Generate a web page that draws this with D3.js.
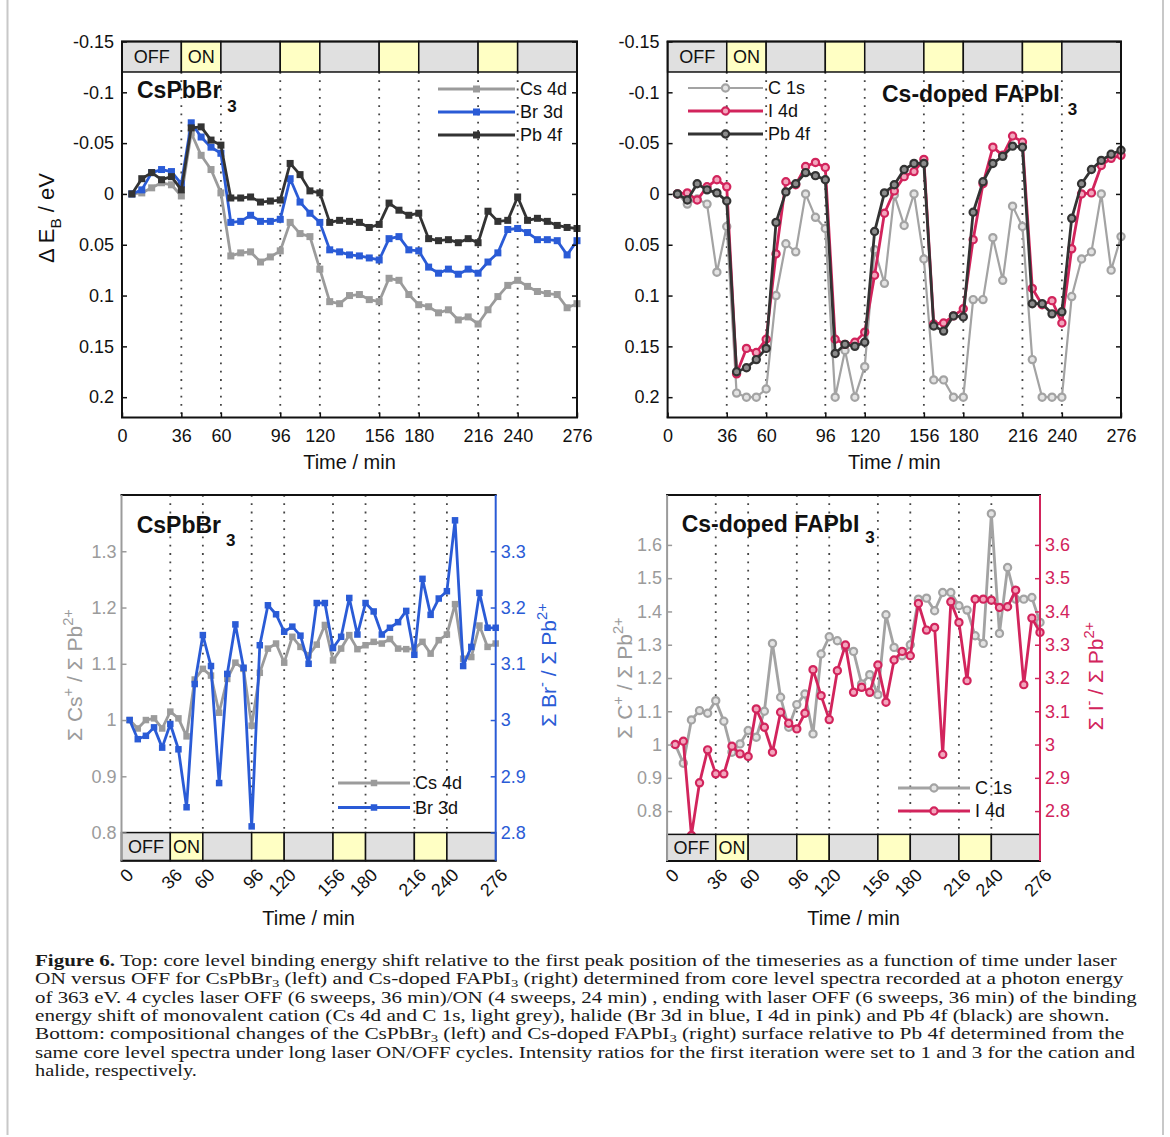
<!DOCTYPE html>
<html>
<head>
<meta charset="utf-8">
<script src="https://cdn.jsdelivr.net/npm/d3@7"></script>
<style>
  body { margin: 0; background: #fff; }
  svg { display: block; font-family: "Liberation Sans", Arial, Helvetica, sans-serif; }
</style>
</head>
<body>
<svg id="fig" width="1170" height="1137"></svg>
<script>
// one sweep every 6 min
const times = [6,12,18,24,30,36,42,48,54,60,66,72,78,84,90,96,102,108,114,120,
  126,132,138,144,150,156,162,168,174,180,186,192,198,204,210,216,222,228,234,240,
  246,252,258,264,270,276];

// top left, CsPbBr3: binding energy shift (eV)
const cs4dShift = [0,-0.001,-0.006,-0.011,-0.009,0.002, -0.060,-0.038,-0.024,-0.001,
  0.061,0.058,0.057,0.067,0.062,0.056, 0.028,0.039,0.042,0.074,
  0.106,0.108,0.100,0.099,0.104,0.106, 0.083,0.085,0.099,0.109,
  0.111,0.117,0.114,0.124,0.121,0.128, 0.114,0.101,0.090,0.085,
  0.091,0.096,0.098,0.099,0.112,0.108];
const br3dShift = [0,-0.004,-0.021,-0.024,-0.022,-0.010, -0.070,-0.056,-0.046,-0.040,
  0.028,0.027,0.021,0.027,0.027,0.025, -0.015,0.008,0.019,0.028,
  0.055,0.057,0.060,0.061,0.063,0.065, 0.044,0.042,0.055,0.056,
  0.072,0.078,0.074,0.079,0.074,0.078, 0.067,0.058,0.035,0.034,
  0.038,0.045,0.045,0.046,0.060,0.046];
const pb4fShiftBr = [0,-0.015,-0.021,-0.014,-0.017,-0.004, -0.065,-0.066,-0.053,-0.048,
  0.004,0.004,0.003,0.008,0.007,0.006, -0.030,-0.019,-0.003,-0.001,
  0.028,0.026,0.027,0.028,0.033,0.030, 0.009,0.016,0.021,0.019,
  0.044,0.046,0.045,0.048,0.044,0.048, 0.017,0.027,0.026,0.003,
  0.026,0.024,0.027,0.031,0.033,0.034];

// top right, Cs-doped FAPbI3: binding energy shift (eV)
const c1sShift = [0,0.010,0.005,0.010,0.077,0.032, 0.196,0.200,0.200,0.192,
  0.100,0.049,0.057,0.000,0.023,0.034, 0.200,0.154,0.200,0.170,
  0.055,0.088,0.001,0.031,0.000,0.064, 0.183,0.183,0.200,0.200,
  0.104,0.104,0.043,0.085,0.012,0.032, 0.163,0.200,0.200,0.200,
  0.101,0.064,0.057,0.000,0.075,0.042];
const i4dShift = [0,-0.001,0.006,-0.007,-0.014,-0.007, 0.177,0.152,0.156,0.143,
  0.059,-0.012,-0.009,-0.027,-0.031,-0.026, 0.143,0.148,0.146,0.136,
  0.080,0.019,-0.003,-0.017,-0.022,-0.034, 0.128,0.127,0.120,0.113,
  0.045,-0.010,-0.046,-0.038,-0.057,-0.051, 0.093,0.109,0.105,0.127,
  0.054,0.000,-0.001,-0.028,-0.035,-0.038];
const pb4fShiftI = [0,0.006,-0.010,-0.004,-0.001,0.007, 0.175,0.171,0.163,0.152,
  0.028,-0.002,-0.010,-0.021,-0.018,-0.014, 0.157,0.148,0.150,0.146,
  0.037,-0.001,-0.009,-0.024,-0.030,-0.030, 0.130,0.135,0.120,0.121,
  0.018,-0.012,-0.030,-0.037,-0.047,-0.046, 0.108,0.108,0.118,0.116,
  0.024,-0.010,-0.024,-0.033,-0.039,-0.043];

// bottom left, CsPbBr3: intensity ratios to Pb 4f
const csRatio = [1.000,0.985,1.000,1.003,0.985,1.015, 1.003,0.971,1.072,1.091,
  1.079,1.013,1.073,1.102,1.091,0.990, 1.084,1.127,1.136,1.102,
  1.148,1.130,1.115,1.134,1.169,1.106, 1.127,1.151,1.126,1.133,
  1.139,1.136,1.144,1.127,1.126,1.127, 1.139,1.118,1.142,1.152,
  1.206,1.109,1.112,1.168,1.130,1.136];
const brRatio = [3.000,2.966,2.972,2.987,2.951,2.993, 2.948,2.845,3.064,3.151,
  3.096,2.888,3.082,3.170,3.093,2.811, 3.133,3.204,3.188,3.157,
  3.166,3.150,3.100,3.208,3.208,3.128, 3.148,3.217,3.152,3.208,
  3.193,3.152,3.164,3.174,3.194,3.116, 3.251,3.187,3.216,3.229,
  3.355,3.096,3.130,3.226,3.164,3.164];

// bottom right, Cs-doped FAPbI3: intensity ratios to Pb 4f
const cRatio = [1.000,0.944,1.074,1.102,1.094,1.132, 1.070,0.977,1.002,1.042,
  1.022,1.100,1.304,1.142,1.052,1.120, 1.152,1.032,1.272,1.324,
  1.312,1.292,1.280,1.182,1.210,1.150, 1.390,1.292,1.267,1.300,
  1.437,1.440,1.402,1.457,1.457,1.417, 1.404,1.327,1.304,1.694,
  1.334,1.532,1.437,1.437,1.442,1.367];
const iRatio = [3.000,3.010,2.727,2.885,2.984,2.912, 2.912,2.995,2.972,2.964,
  3.107,3.052,2.977,3.097,3.064,3.047, 3.094,3.225,3.147,3.075,
  3.222,3.299,3.157,3.172,3.157,3.239, 3.127,3.254,3.280,3.267,
  3.424,3.344,3.352,2.970,3.429,3.367, 3.192,3.437,3.437,3.434,
  3.412,3.414,3.464,3.180,3.380,3.337];

const timeTicks = [0,36,60,96,120,156,180,216,240,276];
const laserEdges = [0,36,60,96,120,156,180,216,240,276];
const laserState = ["OFF","ON","OFF","ON","OFF","ON","OFF","ON","OFF"];
const shiftTicks = [-0.15,-0.1,-0.05,0,0.05,0.1,0.15,0.2];
const csTicks = [0.8,0.9,1,1.1,1.2,1.3];
const brTicks = [2.8,2.9,3,3.1,3.2,3.3];
const cTicks = [0.8,0.9,1,1.1,1.2,1.3,1.4,1.5,1.6];
const iTicks = [2.8,2.9,3,3.1,3.2,3.3,3.4,3.5,3.6];

const captionLines = [
  "**Figure 6.** Top: core level binding energy shift relative to the first peak position of the timeseries as a function of time under laser",
  "ON versus OFF for CsPbBr_3 (left) and Cs-doped FAPbI_3 (right) determined from core level spectra recorded at a photon energy",
  "of 363 eV. 4 cycles laser OFF (6 sweeps, 36 min)/ON (4 sweeps, 24 min) , ending with laser OFF (6 sweeps, 36 min) of the binding",
  "energy shift of monovalent cation (Cs 4d and C 1s, light grey), halide (Br 3d in blue, I 4d in pink) and Pb 4f (black) are shown.",
  "Bottom: compositional changes of the CsPbBr_3 (left) and Cs-doped FAPbI_3 (right) surface relative to Pb 4f determined from the",
  "same core level spectra under long laser ON/OFF cycles. Intensity ratios for the first iteration were set to 1 and 3 for the cation and",
  "halide, respectively."
];

const GREY = "#9b9b9b", BLUE = "#2a5bd6", DARK = "#333333", PINK = "#d2245c";
const BAR_OFF = "#e0e0e0", BAR_ON = "#ffffc4";

const svg = d3.select("#fig");

// figure frame (page border lines)
svg.append("line").attr("x1", 7.5).attr("x2", 7.5).attr("y1", 0).attr("y2", 1135)
  .attr("stroke", "#c8c8c8").attr("stroke-width", 2);
svg.append("line").attr("x1", 1163).attr("x2", 1163).attr("y1", 0).attr("y2", 1135)
  .attr("stroke", "#c8c8c8").attr("stroke-width", 2);

/* text with sub/superscripts: parts = [[str, "n"|"sub"|"sup"], ...] */
function rich(t, parts, size) {
  let shift = 0;
  parts.forEach(([s, k]) => {
    const target = k === "sup" ? -0.42 * size : k === "sub" ? 0.3 * size : 0;
    t.append("tspan").text(s)
      .attr("dy", target - shift)
      .attr("font-size", k === "n" ? size : size * 0.7);
    shift = target;
  });
}

function marker(g, type, cx, cy, s) {
  if (type === "square") {
    g.append("rect").attr("x", cx - s.size / 2).attr("y", cy - s.size / 2)
      .attr("width", s.size).attr("height", s.size).attr("fill", s.color);
  } else {
    g.append("circle").attr("cx", cx).attr("cy", cy).attr("r", s.size)
      .attr("fill", s.fill).attr("stroke", s.color).attr("stroke-width", 2.2);
  }
}

function drawPanel(p) {
  const g = svg.append("g");
  const x = d3.scaleLinear().domain([0, 276]).range([p.x0, p.x1]);
  const y = d3.scaleLinear().domain(p.yDomain).range(p.yRange);
  const y2 = p.y2Domain ? d3.scaleLinear().domain(p.y2Domain).range(p.yRange) : y;
  const top = Math.min(...p.yRange), bot = Math.max(...p.yRange);
  const barEdge = y(p.barTo);

  // laser switching times
  g.append("g").selectAll("line").data(laserEdges.slice(1, -1)).join("line")
    .attr("x1", d => x(d)).attr("x2", d => x(d))
    .attr("y1", p.barAtTop ? barEdge : top)
    .attr("y2", p.barAtTop ? bot : barEdge)
    .attr("stroke", "#444").attr("stroke-width", 1.8)
    .attr("stroke-dasharray", "1.8 6.5");

  // series
  p.series.forEach(s => {
    const ys = s.axis === "right" ? y2 : y;
    const line = d3.line().x((d, i) => x(times[i])).y(d => ys(d));
    const sg = g.append("g");
    sg.append("path").datum(s.values).attr("d", line)
      .attr("fill", "none").attr("stroke", s.color)
      .attr("stroke-width", s.width).attr("stroke-linejoin", "round");
    s.values.forEach((v, i) => marker(sg, p.marker, x(times[i]), ys(v), s));
  });

  // laser OFF/ON bar
  const bar = g.append("g");
  const by0 = Math.min(y(p.barFrom), barEdge), bh = Math.abs(y(p.barFrom) - barEdge);
  laserState.forEach((st, i) => {
    bar.append("rect")
      .attr("x", x(laserEdges[i])).attr("y", by0)
      .attr("width", x(laserEdges[i + 1]) - x(laserEdges[i])).attr("height", bh)
      .attr("fill", st === "ON" ? BAR_ON : BAR_OFF)
      .attr("stroke", "#111").attr("stroke-width", 1.5);
    if (i < 2) {
      bar.append("text")
        .attr("x", (x(laserEdges[i]) + x(laserEdges[i + 1])) / 2)
        .attr("y", by0 + bh / 2).attr("dy", "0.36em")
        .attr("text-anchor", "middle").attr("font-size", 18).attr("fill", "#111")
        .text(st);
    }
  });

  // y axes
  const ay = g.append("g").attr("transform", `translate(${p.x0},0)`)
    .call(d3.axisLeft(y).tickValues(p.leftTicks).tickSize(-5).tickPadding(p.leftPad)
      .tickFormat(d => String(d)));
  ay.select(".domain").remove();
  ay.selectAll("line").attr("stroke", p.leftColor).attr("stroke-width", 1.5);
  ay.selectAll("text").attr("fill", p.leftColor).attr("font-size", 18)
    .attr("font-family", null);

  const ay2 = g.append("g").attr("transform", `translate(${p.x1},0)`)
    .call(d3.axisRight(y2).tickValues(p.rightTicks).tickSize(-5).tickPadding(5)
      .tickFormat(p.rightLabels ? d => String(d) : ""));
  ay2.select(".domain").remove();
  ay2.selectAll("line").attr("stroke", p.rightColor).attr("stroke-width", 1.5);
  ay2.selectAll("text").attr("fill", p.rightColor).attr("font-size", 18)
    .attr("font-family", null);

  // x axis
  const ax = g.append("g").attr("transform", `translate(0,${bot})`)
    .call(d3.axisBottom(x).tickValues(timeTicks)
      .tickSize(p.barAtTop ? -5 : 0).tickPadding(12));
  ax.select(".domain").remove();
  ax.selectAll("line").attr("stroke", "#111").attr("stroke-width", 1.5);
  ax.selectAll("text").attr("fill", "#111").attr("font-size", 18)
    .attr("font-family", null);
  if (!p.barAtTop) {
    ax.selectAll("text")
      .attr("x", 0).attr("y", 0).attr("dy", "0.35em")
      .attr("text-anchor", "end")
      .attr("transform", "translate(8,11) rotate(-45)");
  }

  // plot frame
  const fr = g.append("g").attr("stroke-width", 2).attr("fill", "none");
  fr.append("line").attr("x1", p.x0 - 1).attr("x2", p.x1 + 1).attr("y1", top).attr("y2", top).attr("stroke", "#111");
  fr.append("line").attr("x1", p.x0 - 1).attr("x2", p.x1 + 1).attr("y1", bot).attr("y2", bot).attr("stroke", "#111");
  fr.append("line").attr("x1", p.x0).attr("x2", p.x0).attr("y1", top).attr("y2", bot).attr("stroke", p.leftColor);
  fr.append("line").attr("x1", p.x1).attr("x2", p.x1).attr("y1", top).attr("y2", bot).attr("stroke", p.rightColor);

  // axis titles
  g.append("text").attr("x", (p.x0 + p.x1) / 2).attr("y", p.xTitleY)
    .attr("text-anchor", "middle").attr("font-size", 20).attr("fill", "#111")
    .text("Time / min");
  if (p.leftTitle) {
    const t = g.append("text").attr("text-anchor", "middle").attr("fill", p.leftColor)
      .attr("transform", `translate(${p.leftTitle.x},${p.leftTitle.y}) rotate(-90)`);
    rich(t, p.leftTitle.parts, p.leftTitle.size);
  }
  if (p.rightTitle) {
    const t = g.append("text").attr("text-anchor", "middle").attr("fill", p.rightColor)
      .attr("transform", `translate(${p.rightTitle.x},${p.rightTitle.y}) rotate(-90)`);
    rich(t, p.rightTitle.parts, p.rightTitle.size);
  }

  // panel name
  const nm = g.append("text").attr("x", p.name.x).attr("y", p.name.y)
    .attr("font-size", 23).attr("font-weight", "bold").attr("fill", "#111");
  nm.append("tspan").text(p.name.text);
  nm.append("tspan").text("3").attr("font-size", 17).attr("dx", p.name.dx).attr("dy", p.name.dy);

  // legend
  const lg = g.append("g");
  p.series.forEach((s, i) => {
    const ly = p.legend.y[i];
    lg.append("line").attr("x1", p.legend.x0).attr("x2", p.legend.x1)
      .attr("y1", ly).attr("y2", ly).attr("stroke", s.color).attr("stroke-width", s.width);
    marker(lg, p.marker, (p.legend.x0 + p.legend.x1) / 2, ly, s);
    lg.append("text").attr("x", p.legend.x1 + 5).attr("y", ly).attr("dy", "0.36em")
      .attr("font-size", 18).attr("fill", "#111").text(s.label);
  });
}

// top left
drawPanel({
  x0: 122, x1: 577, yDomain: [-0.15, 0.22], yRange: [41.5, 417.5],
  barFrom: -0.15, barTo: -0.12, barAtTop: true,
  leftTicks: shiftTicks, rightTicks: shiftTicks, rightLabels: false, leftPad: 8,
  leftColor: "#111", rightColor: "#111", marker: "square", xTitleY: 469,
  leftTitle: { x: 54, y: 218, size: 22, parts: [["\u0394 E", "n"], ["B", "sub"], [" / eV", "n"]] },
  name: { text: "CsPbBr", x: 137, y: 98, dx: 6, dy: 13.5 },
  legend: { x0: 438, x1: 515, y: [89, 112, 135] },
  series: [
    { label: "Cs 4d", values: cs4dShift, color: GREY, width: 2.8, size: 7 },
    { label: "Br 3d", values: br3dShift, color: BLUE, width: 2.8, size: 7 },
    { label: "Pb 4f", values: pb4fShiftBr, color: DARK, width: 2.8, size: 7 }
  ]
});

// top right
drawPanel({
  x0: 667.6, x1: 1121, yDomain: [-0.15, 0.22], yRange: [41.5, 417.5],
  barFrom: -0.15, barTo: -0.12, barAtTop: true,
  leftTicks: shiftTicks, rightTicks: shiftTicks, rightLabels: false, leftPad: 8,
  leftColor: "#111", rightColor: "#111", marker: "circle", xTitleY: 469,
  name: { text: "Cs-doped FAPbI", x: 882, y: 101.5, dx: 8, dy: 13 },
  legend: { x0: 688, x1: 763, y: [88, 111, 134] },
  series: [
    { label: "C 1s", values: c1sShift, color: "#a3a3a3", fill: "#e4e4e4", width: 2.2, size: 3.6 },
    { label: "I 4d", values: i4dShift, color: PINK, fill: "#f2a6bd", width: 2.8, size: 3.6 },
    { label: "Pb 4f", values: pb4fShiftI, color: DARK, fill: "#8c8c8c", width: 2.8, size: 3.6 }
  ]
});

// bottom left
drawPanel({
  x0: 121.5, x1: 495.7, yDomain: [0.75, 1.4], y2Domain: [2.75, 3.4], yRange: [860.7, 495],
  barFrom: 0.75, barTo: 0.8, barAtTop: false,
  leftTicks: csTicks, rightTicks: brTicks, rightLabels: true, leftPad: 5,
  leftColor: GREY, rightColor: BLUE, marker: "square", xTitleY: 925,
  leftTitle: { x: 82, y: 675, size: 21, parts: [["\u03a3 Cs", "n"], ["+", "sup"], [" / \u03a3 Pb", "n"], ["2+", "sup"]] },
  rightTitle: { x: 556, y: 665, size: 21, parts: [["\u03a3 Br", "n"], ["-", "sup"], [" / \u03a3 Pb", "n"], ["2+", "sup"]] },
  name: { text: "CsPbBr", x: 136.7, y: 533.3, dx: 5, dy: 12.5 },
  legend: { x0: 338, x1: 410, y: [783, 807.5] },
  series: [
    { label: "Cs 4d", values: csRatio, color: GREY, width: 2.8, size: 6.5, axis: "left" },
    { label: "Br 3d", values: brRatio, color: BLUE, width: 2.8, size: 6.5, axis: "right" }
  ]
});

// bottom right
drawPanel({
  x0: 667.1, x1: 1040, yDomain: [0.65, 1.75], y2Domain: [2.65, 3.75], yRange: [861, 495],
  barFrom: 0.65, barTo: 0.73, barAtTop: false,
  leftTicks: cTicks, rightTicks: iTicks, rightLabels: true, leftPad: 5,
  leftColor: GREY, rightColor: PINK, marker: "circle", xTitleY: 925,
  leftTitle: { x: 632, y: 678, size: 21, parts: [["\u03a3 C", "n"], ["+", "sup"], [" / \u03a3 Pb", "n"], ["2+", "sup"]] },
  rightTitle: { x: 1103, y: 676, size: 21, parts: [["\u03a3 I", "n"], ["-", "sup"], [" / \u03a3 Pb", "n"], ["2+", "sup"]] },
  name: { text: "Cs-doped FAPbI", x: 681.7, y: 532.3, dx: 6, dy: 11 },
  legend: { x0: 898, x1: 970, y: [788, 811] },
  series: [
    { label: "C 1s", values: cRatio, color: "#a3a3a3", fill: "#e4e4e4", width: 2.8, size: 3.6, axis: "left" },
    { label: "I 4d", values: iRatio, color: PINK, fill: "#f2a6bd", width: 2.8, size: 3.6, axis: "right" }
  ]
});

// caption: each line stretched horizontally to the width it has in the print
const capEnds = [1118, 1124, 1137, 1110, 1125, 1136, 197];
const cap = svg.append("g").attr("font-family", "'Liberation Serif', 'Times New Roman', serif")
  .attr("fill", "#1a1a1a");
captionLines.forEach((ln, li) => {
  const yy = 966 + li * 18.35;
  const t = cap.append("text").attr("x", 0).attr("y", 0).attr("font-size", 16);
  let down = false;
  ln.split(/(\*\*[^*]+\*\*|_3)/).filter(s => s.length).forEach(s => {
    const ts = t.append("tspan");
    if (s.startsWith("**")) {
      ts.text(s.slice(2, -2)).attr("font-weight", "bold");
    } else if (s === "_3") {
      ts.text("3").attr("font-size", 11).attr("dy", 3);
      down = true;
      return;
    } else {
      ts.text(s);
    }
    if (down) { ts.attr("dy", -3); down = false; }
  });
  const w = t.node().getComputedTextLength();
  const sx = (capEnds[li] - 35) / w;
  t.attr("transform", `translate(35,${yy}) scale(${sx},1)`);
});
</script>
</body>
</html>
